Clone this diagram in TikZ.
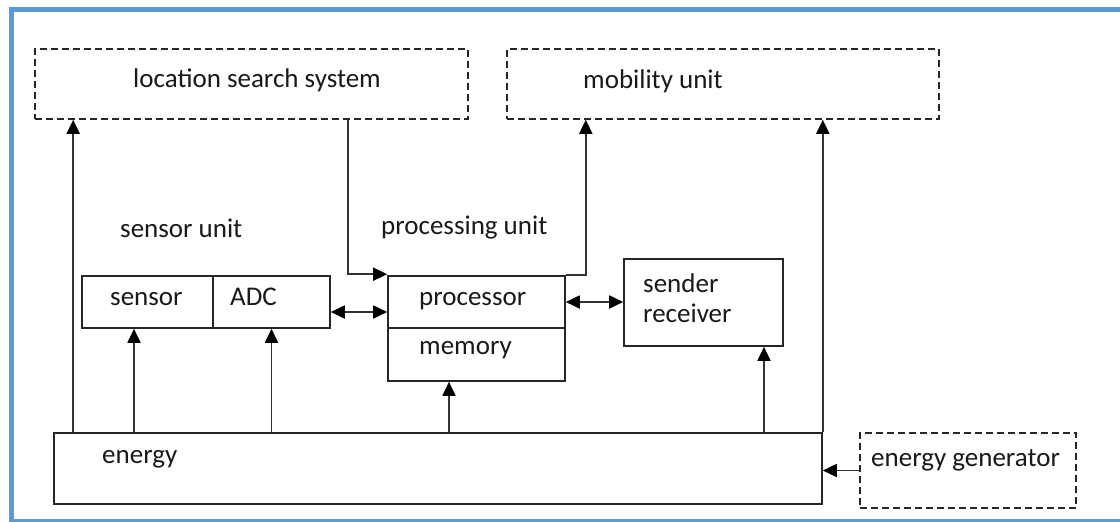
\documentclass[tikz,border=0pt]{standalone}
\usepackage{fontspec}
\setmainfont{Carlito}
\usetikzlibrary{arrows.meta,calc}
\begin{document}
\begin{tikzpicture}[x=1pt,y=-1pt,
  box/.style={draw=black!85,line width=1.6pt,rectangle,inner sep=0pt},
  dbox/.style={box,line width=1.5pt,dash pattern=on 7pt off 4pt},
  lbl/.style={inner sep=0pt,anchor=base west,font=\fontsize{27}{32}\selectfont,text=black!90},
  ln/.style={draw=black!80,line width=1.8pt},
  tip/.style={},
  arr/.style={ln,-{Triangle[length=14pt,width=13pt,color=black]}},
  darr/.style={ln,{Triangle[length=14pt,width=13pt,color=black]}-{Triangle[length=14pt,width=13pt,color=black]}}
]
\useasboundingbox (0,0) rectangle (1120,522);
\fill[white] (0,0) rectangle (1120,522);
\draw[draw={rgb,255:red,91;green,155;blue,213},line width=5pt] (11,9.5) rectangle (1130,521);
% boxes
\node[dbox,minimum width=433pt,minimum height=70pt] (loc) at (251.5,84) {};
\node[dbox,minimum width=432pt,minimum height=70pt] (mob) at (723,84) {};
\node[box,minimum width=131pt,minimum height=52pt] (sens) at (147.5,302) {};
\node[box,minimum width=117pt,minimum height=52pt] (adc) at (271.5,302) {};
\node[box,minimum width=177pt,minimum height=52pt] (proc) at (476.5,302) {};
\node[box,minimum width=177pt,minimum height=53pt] (mem) at (476.5,354.5) {};
\node[box,minimum width=159pt,minimum height=87pt] (send) at (703.5,302.5) {};
\node[box,minimum width=768pt,minimum height=71pt] (energy) at (438,468.5) {};
\node[dbox,minimum width=216pt,minimum height=75pt] (gen) at (968,470.5) {};
% labels
\node[lbl,anchor=base] (tloc) at (257,87) {location search system};
\node[lbl] (tmob) at (583,88) {mobility unit};
\node[lbl] (tsu) at (120,237) {sensor unit};
\node[lbl] (tpu) at (381,234) {processing unit};
\node[lbl] (tsens) at (110,305) {sensor};
\node[lbl] (tadc) at (230,305) {ADC};
\node[lbl] (tproc) at (419,305) {processor};
\node[lbl] (tmem) at (419,354) {memory};
\node[lbl] (tsend) at (643,292) {sender};
\node[lbl] (trec) at (643,322) {receiver};
\node[lbl] (tene) at (102,463) {energy};
\node[lbl] (tgen) at (871,466) {energy generator};
% connectors
\draw[arr] ([xshift=20pt]energy.north west) -- ([xshift=20pt]energy.north west |- loc.south);
\draw[arr] ([xshift=-13.5pt]sens.south |- energy.north) -- ([xshift=-13.5pt]sens.south);
\draw[arr] (adc.south |- energy.north) -- (adc.south);
\draw[arr] ([xshift=-27.5pt]mem.south |- energy.north) -- ([xshift=-27.5pt]mem.south);
\draw[arr] ([xshift=60.5pt]send.south |- energy.north) -- ([xshift=60.5pt]send.south);
\draw[arr] (energy.north east) -- (energy.north east |- mob.south);
\draw[arr] ([xshift=96.5pt]loc.south) |- ([yshift=1pt]proc.north west);
\draw[arr] (proc.north east) -- ([xshift=20pt]proc.north east) -- ([xshift=20pt]proc.north east |- mob.south);
\draw[darr] ([yshift=-10pt]adc.east) -- ([yshift=-10pt]proc.west);
\draw[darr] (proc.east) -- (proc.east -| send.west);
\draw[arr] (gen.west) -- (gen.west -| energy.east);
\end{tikzpicture}
\end{document}
